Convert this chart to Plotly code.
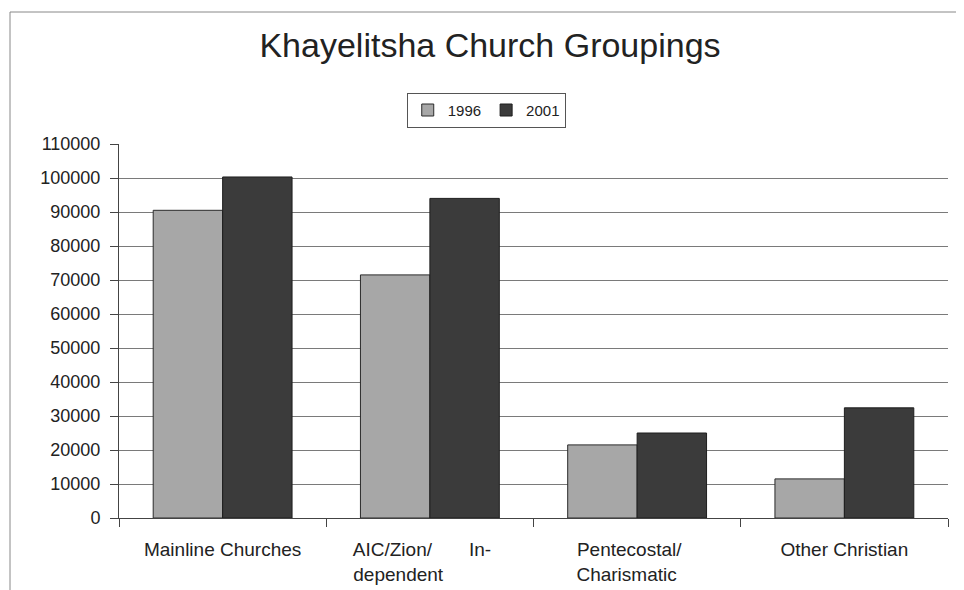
import plotly.graph_objects as go

NB = "\u00a0"
categories = ["Mainline Churches", "AIC/Zion/ In-dependent", "Pentecostal/Charismatic", "Other Christian"]
tick_labels = [
    "Mainline Churches",
    "AIC/Zion/" + NB * 7 + "In-" + NB * 3 + "<br>dependent" + NB * 12,
    "Pentecostal/" + NB * 3 + "<br>Charismatic" + NB * 4,
    "Other Christian",
]
values_1996 = [90500, 71500, 21500, 11500]
values_2001 = [100300, 94000, 25000, 32400]
y_ticks = list(range(0, 110001, 10000))

font_family = "Liberation Sans, Arial, sans-serif"

fig = go.Figure()
fig.add_trace(go.Bar(name="1996", x=categories, y=values_1996,
                     marker=dict(color="#a7a7a7", line=dict(color="#2a2a2a", width=1))))
fig.add_trace(go.Bar(name="2001", x=categories, y=values_2001,
                     marker=dict(color="#3b3b3b", line=dict(color="#1e1e1e", width=1))))

fig.update_layout(
    width=964, height=590,
    margin=dict(l=111, r=24, t=136, b=80),
    paper_bgcolor="white", plot_bgcolor="white",
    barmode="group", bargap=0.33, bargroupgap=0,
    font=dict(family=font_family, size=18, color="#222"),
    title=dict(text="Khayelitsha Church Groupings", x=0.5, xanchor="center",
               y=0.937, yanchor="middle", font=dict(size=34, color="#222", family=font_family)),
    legend=dict(orientation="h", x=0.443, xanchor="center", y=1.137, yanchor="top",
                bordercolor="#555", borderwidth=1, bgcolor="white",
                font=dict(size=15, color="#222"), itemwidth=30, tracegroupgap=0),
    showlegend=True,
)
fig.update_xaxes(
    type="category", tickson="boundaries", ticks="outside", ticklen=8,
    tickcolor="#444", showline=True, linecolor="#444", linewidth=1,
    tickvals=categories, ticktext=tick_labels, showgrid=False,
    tickfont=dict(size=19, color="#222"), ticklabelstandoff=14,
)
fig.update_yaxes(
    range=[0, 110000], tickvals=y_ticks, ticktext=[str(v) for v in y_ticks],
    ticks="outside", ticklen=8, tickcolor="#444", showline=True, linecolor="#444",
    showgrid=True, gridcolor="#7a7a7a", gridwidth=1, zeroline=False,
    tickfont=dict(size=18, color="#222"), ticklabelstandoff=6,
)
fig.add_shape(type="rect", xref="paper", yref="paper",
              x0=(10 - 119) / 829, x1=1.05, y0=-0.3, y1=(518 - 12) / 374,
              line=dict(color="#888", width=1), layer="below")

fig.write_html("out.html")
